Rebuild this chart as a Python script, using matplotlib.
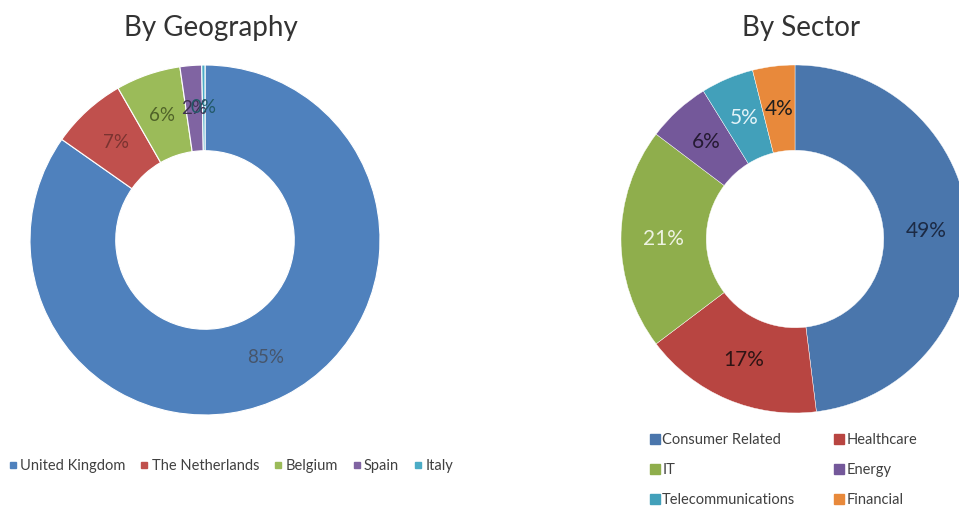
import matplotlib
matplotlib.use("Agg")
import matplotlib.pyplot as plt
from matplotlib.lines import Line2D

plt.rcParams['font.family'] = ['Lato', 'DejaVu Sans']

geo_names = ["United Kingdom", "The Netherlands", "Belgium", "Spain", "Italy"]
geo_values = [85, 7, 6, 2, 0.3]
geo_labels = ["85%", "7%", "6%", "2%", "0%"]

sec_names = ["Consumer Related", "Healthcare", "IT", "Energy", "Telecommunications", "Financial"]
sec_values = [49, 17, 21, 6, 5, 4]
sec_labels = ["49%", "17%", "21%", "6%", "5%", "4%"]

geo_colors = ["#4F81BD", "#C0504D", "#9BBB59", "#8064A2", "#4BACC6"]
geo_text = ["#46556B", "#7A3330", "#4F6228", "#3F3151", "#215968"]
sec_colors = ["#4A76AC", "#B84541", "#8FAE4C", "#74589A", "#42A0BA", "#E8893B"]
sec_text = ["#1C2A44", "#2E1414", "#EEF3E2", "#251A33", "#E2F3F8", "#1E1E1E"]

W, H = 959, 508
fig = plt.figure(figsize=(W / 100, H / 100), dpi=100)


def donut(cx, cy, r, values, labels, colors, tcolors, fsize, lw):
    ax = fig.add_axes([(cx - r) / W, (H - cy - r) / H, 2 * r / W, 2 * r / H])
    it = iter(labels)
    wedges, _, autotexts = ax.pie(values, colors=colors, startangle=90, counterclock=False,
                                  radius=1, autopct=lambda p: next(it), pctdistance=0.755,
                                  wedgeprops=dict(width=0.49, edgecolor="white", linewidth=lw),
                                  textprops=dict(fontsize=fsize))
    for t, c in zip(autotexts, tcolors):
        t.set_color(c)
    ax.set_xlim(-1, 1)
    ax.set_ylim(-1, 1)
    ax.set_aspect("equal")
    ax.axis("off")
    return ax, wedges


ax1, w1 = donut(205, 240, 175, geo_values, geo_labels, geo_colors, geo_text, 13.5, 0.8)
ax2, w2 = donut(795, 239, 174, sec_values, sec_labels, sec_colors, sec_text, 15, 0.3)

fig.text(211 / W, 1 - 28 / H, "By Geography", ha="center", va="center", fontsize=20, color="#333333")
fig.text(801 / W, 1 - 28 / H, "By Sector", ha="center", va="center", fontsize=20, color="#333333")

h1 = [Line2D([], [], marker="s", linestyle="none", markersize=5, color=c) for c in geo_colors]
fig.legend(h1, geo_names, loc="center", bbox_to_anchor=(230 / W, 1 - 466 / H), ncol=5,
           frameon=False, fontsize=10.5, handletextpad=0.1, columnspacing=0.9, handlelength=0.8,
           labelcolor="#404040")

order = [0, 2, 4, 1, 3, 5]
h2 = [Line2D([], [], marker="s", linestyle="none", markersize=7, color=sec_colors[i]) for i in order]
fig.legend(h2, [sec_names[i] for i in order], loc="upper left",
           bbox_to_anchor=(636 / W, 1 - 420 / H), ncol=2, frameon=False, fontsize=10.5,
           handletextpad=0.1, columnspacing=2.6, handlelength=0.8, labelspacing=1.1,
           labelcolor="#404040")

fig.savefig("out.png", dpi=100)
